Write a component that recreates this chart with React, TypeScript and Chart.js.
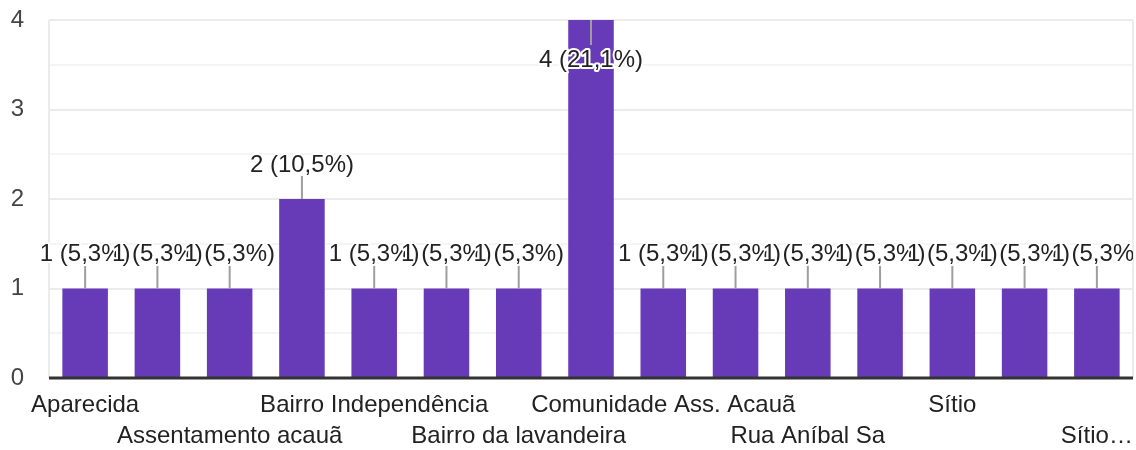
import React, { useEffect, useRef } from "react";
import { Chart, registerables } from "chart.js";

Chart.register(...registerables);

const categories: string[] = [
  "Aparecida",
  "Assentamento",
  "Assentamento acauã",
  "Bairro",
  "Bairro Independência",
  "Bairro Novo",
  "Bairro da lavandeira",
  "Centro",
  "Comunidade Ass. Acauã",
  "Povoado",
  "Rua Aníbal Sa",
  "Serra",
  "Sítio",
  "Sítio Acauã",
  "Sítio…",
];

const counts: number[] = [1, 1, 1, 2, 1, 1, 1, 4, 1, 1, 1, 1, 1, 1, 1];

const yTickValues: number[] = [0, 1, 2, 3, 4];

const FONT = "Arial, 'Liberation Sans', sans-serif";
const FONT_SIZE = 24;
const BAR_COLOR = "#673ab7";

const total = counts.reduce((a, b) => a + b, 0);
const pctText = (v: number) =>
  `${v} (${((v / total) * 100).toFixed(1).replace(".", ",")}%)`;

const framePlugin = {
  id: "frame",
  beforeDatasetsDraw(chart: any) {
    const { ctx, chartArea } = chart;
    ctx.save();
    ctx.strokeStyle = "#ebebeb";
    ctx.lineWidth = 2;
    ctx.beginPath();
    ctx.moveTo(chartArea.left, chartArea.top);
    ctx.lineTo(chartArea.left, chartArea.bottom);
    ctx.moveTo(chartArea.right, chartArea.top);
    ctx.lineTo(chartArea.right, chartArea.bottom);
    ctx.stroke();
    ctx.restore();
  },
  afterDatasetsDraw(chart: any) {
    const { ctx, chartArea } = chart;
    ctx.save();
    ctx.strokeStyle = "#333333";
    ctx.lineWidth = 3;
    ctx.beginPath();
    ctx.moveTo(chartArea.left, chartArea.bottom);
    ctx.lineTo(chartArea.right, chartArea.bottom);
    ctx.stroke();
    ctx.restore();
  },
};

const labelPlugin = {
  id: "barLabels",
  afterDatasetsDraw(chart: any) {
    const { ctx, chartArea } = chart;
    const meta = chart.getDatasetMeta(0);
    ctx.save();
    ctx.beginPath();
    ctx.rect(0, 0, chartArea.right, chart.height);
    ctx.clip();
    ctx.font = `${FONT_SIZE}px ${FONT}`;
    ctx.textAlign = "center";
    ctx.textBaseline = "middle";
    ctx.lineJoin = "round";
    meta.data.forEach((bar: any, i: number) => {
      const v = counts[i];
      const text = pctText(v);
      const x = bar.x;
      const top = bar.y;
      const above = top - 34 - 12 >= chartArea.top;
      let textY: number;
      ctx.strokeStyle = "#9e9e9e";
      ctx.lineWidth = 2;
      ctx.beginPath();
      if (above) {
        ctx.moveTo(x, top);
        ctx.lineTo(x, top - 23);
        textY = top - 34;
      } else {
        ctx.moveTo(x, top);
        ctx.lineTo(x, top + 25);
        textY = top + 40;
      }
      ctx.stroke();
      ctx.strokeStyle = "#ffffff";
      ctx.lineWidth = 4;
      ctx.strokeText(text, x, textY);
      ctx.fillStyle = "#222222";
      ctx.fillText(text, x, textY);
    });
    ctx.restore();
  },
};

export default function App() {
  const canvasRef = useRef<HTMLCanvasElement | null>(null);

  useEffect(() => {
    document.body.style.margin = "0";
    const canvas = canvasRef.current;
    if (!canvas) return;
    const chart = new Chart(canvas, {
      type: "bar",
      data: {
        labels: categories,
        datasets: [
          {
            data: counts,
            backgroundColor: BAR_COLOR,
            barPercentage: 0.63,
            categoryPercentage: 1,
          },
        ],
      },
      options: {
        responsive: false,
        animation: false,
        layout: { padding: { top: 20, right: 3, left: 0, bottom: 0 } },
        plugins: {
          legend: { display: false },
          tooltip: { enabled: false },
        },
        scales: {
          x: {
            offset: true,
            grid: { display: false, drawTicks: false },
            border: { display: false },
            ticks: {
              autoSkip: false,
              maxRotation: 0,
              minRotation: 0,
              padding: 12,
              color: "#222222",
              font: { family: FONT, size: FONT_SIZE, lineHeight: 1.3 },
              callback: (_v: any, i: number) => {
                if (i % 2 !== 0) return "";
                const label = categories[i];
                return (i / 2) % 2 === 0 ? [label] : ["", label];
              },
            },
            afterFit: (scale: any) => {
              scale.height = 72;
              scale.paddingLeft = 0;
              scale.paddingRight = 0;
            },
          },
          y: {
            min: yTickValues[0],
            max: yTickValues[yTickValues.length - 1],
            ticks: {
              stepSize: 0.5,
              padding: 25,
              color: "#444444",
              font: { family: FONT, size: FONT_SIZE },
              callback: (v: any) =>
                yTickValues.includes(Number(v)) ? String(v) : "",
            },
            grid: {
              drawTicks: false,
              lineWidth: 2,
              color: (c: any) =>
                c.tick && yTickValues.includes(c.tick.value)
                  ? "#ebebeb"
                  : "#f4f4f4",
            },
            border: { display: false },
            afterFit: (scale: any) => {
              scale.width = 49;
              scale.paddingTop = 0;
              scale.paddingBottom = 0;
            },
          },
        },
      },
      plugins: [framePlugin, labelPlugin],
    });
    return () => chart.destroy();
  }, []);

  return (
    <div style={{ width: 1136, height: 450 }}>
      <canvas ref={canvasRef} width={1136} height={450} />
    </div>
  );
}
